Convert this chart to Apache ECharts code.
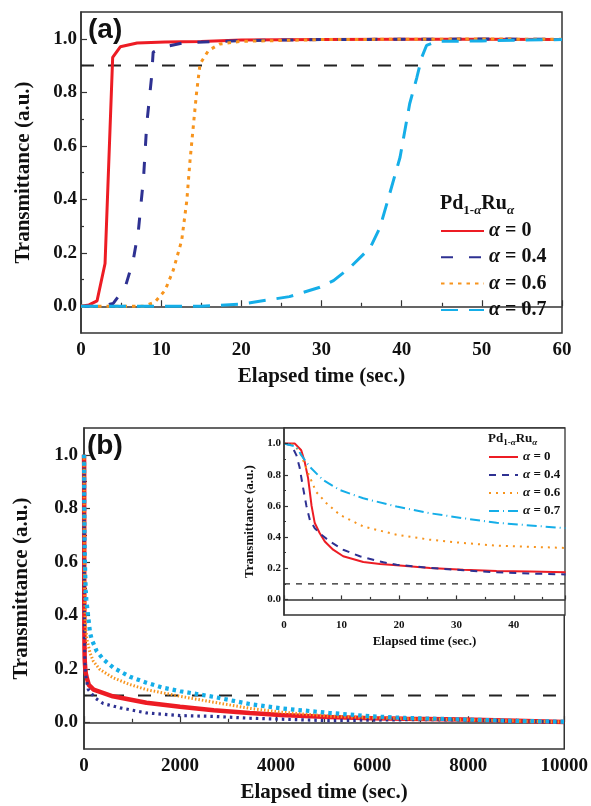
<!DOCTYPE html>
<html><head><meta charset="utf-8">
<script src="https://cdn.jsdelivr.net/npm/echarts@6/dist/echarts.min.js"></script>
<style>html,body{margin:0;padding:0;background:#fff}#c{width:591px;height:806px}</style>
</head><body><div id="c"></div>
<script>
// ---------- labels ----------
const alphaLabels = ['0', '0.4', '0.6', '0.7'];
const xTitle = 'Elapsed time (sec.)';
const yTitle = 'Transmittance (a.u.)';
const yTickValues = [0, 0.2, 0.4, 0.6, 0.8, 1.0];
const yMinorValues = [0.1, 0.3, 0.5, 0.7, 0.9];
const insetXTicks = [0, 10, 20, 30, 40];
const thresholdA = 0.9;
const thresholdB = 0.1;

// ---------- panel (a): [time (s), transmittance] ----------
const aAlpha0 = [[0,0],[1,0.005],[2,0.02],[3,0.16],[3.95,0.93],[4.9,0.97],[7,0.984],[10.5,0.988],[15,0.99],[20,0.995],[30,0.997],[40,0.998],[50,0.998],[60,0.997]];
const aAlpha04 = [[0,0],[2.4,0],[4,0.01],[5.5,0.07],[6.5,0.17],[7.15,0.28],[7.8,0.48],[8.2,0.68],[8.8,0.856],[9.0,0.95],[10.3,0.969],[12.8,0.985],[20,0.993],[30,0.997],[40,0.998],[50,0.999],[60,0.998]];
const aAlpha06 = [[0,0],[7.8,0],[9.2,0.015],[10.5,0.06],[11.5,0.134],[12.56,0.246],[13.2,0.395],[13.6,0.545],[14.0,0.67],[14.4,0.794],[14.85,0.906],[15.9,0.956],[17.3,0.98],[19.8,0.99],[30,0.997],[40,0.998],[50,0.999],[60,0.998]];
const aAlpha07 = [[0,0],[15,0],[20,0.008],[21.5,0.015],[26,0.036],[29.8,0.071],[31.5,0.096],[33.6,0.146],[36.1,0.22],[37.3,0.295],[38.5,0.42],[39.8,0.557],[41.0,0.757],[41.9,0.856],[42.5,0.93],[43.1,0.975],[44.4,0.99],[50,0.992],[55,0.995],[60,0.997]];

// ---------- panel (b) inset, first 49 s ----------
const bShort0 = [[0,1],[1.9,1.0],[3.0,0.957],[3.6,0.883],[4.2,0.777],[4.8,0.6],[5.35,0.49],[6.2,0.426],[7.1,0.372],[8.55,0.319],[10.3,0.277],[13.8,0.24],[16.7,0.228],[19.6,0.219],[25.4,0.202],[31.2,0.191],[37,0.183],[42.8,0.179],[49,0.174]];
const bShort04 = [[0,1],[1.3,0.99],[2.15,0.926],[2.7,0.85],[3.3,0.72],[3.9,0.6],[4.5,0.51],[5.35,0.457],[6.5,0.415],[8,0.372],[10.3,0.319],[13.2,0.277],[17.3,0.238],[19.6,0.223],[25.4,0.202],[31.2,0.187],[37,0.174],[42.8,0.166],[49,0.16]];
const bShort06 = [[0,1],[1.9,0.99],[3,0.926],[4.2,0.81],[5.6,0.69],[7.4,0.617],[9.7,0.543],[13.8,0.468],[19.6,0.415],[25.4,0.383],[31.2,0.362],[37,0.345],[42.8,0.338],[49,0.33]];
const bShort07 = [[0,1],[2.15,0.98],[3,0.926],[4.5,0.85],[6.8,0.766],[9.7,0.702],[13.8,0.649],[19.6,0.596],[25.4,0.553],[31.2,0.521],[37,0.492],[42.8,0.475],[49,0.457]];

// ---------- panel (b) long term, after 49 s ----------
const bLong0 = [[60,0.165],[100,0.14],[200,0.122],[600,0.097],[1300,0.073],[2000,0.058],[2700,0.045],[3450,0.035],[4100,0.027],[5100,0.02],[6000,0.015],[6700,0.013],[7900,0.01],[9000,0.006],[10000,0.001]];
const bLong04 = [[60,0.15],[90,0.122],[230,0.091],[400,0.07],[750,0.054],[1300,0.035],[2000,0.025],[2700,0.022],[3450,0.015],[5100,0.006],[6000,0.008],[7000,0.01],[8000,0.008],[9000,0.005],[10000,0.0]];
const bLong06 = [[60,0.31],[125,0.26],[194,0.228],[333,0.197],[610,0.166],[956,0.141],[1300,0.122],[2000,0.097],[2700,0.075],[3450,0.052],[4100,0.038],[5100,0.023],[6000,0.017],[6700,0.013],[8000,0.009],[9000,0.005],[10000,0.001]];
const bLong07 = [[60,0.44],[125,0.335],[160,0.31],[264,0.266],[402,0.235],[610,0.204],[956,0.17],[1300,0.148],[1650,0.129],[2000,0.116],[2700,0.095],[3450,0.068],[4100,0.052],[5100,0.035],[6000,0.022],[6700,0.016],[8000,0.01],[9000,0.005],[10000,0.002]];

// ---------- styling ----------
const SERIF = 'Liberation Serif';
const colors = ['#ed1c24', '#2e3192', '#f7941d', '#15aee8'];
const AX = '#333';

const chart = echarts.init(document.getElementById('c'), null, {renderer: 'canvas'});

function line(name, data, gi, color, width, type, z) {
  return {
    name: name, type: 'line', xAxisIndex: gi, yAxisIndex: gi * 2, data: data,
    showSymbol: false, symbol: 'none', silent: true, animation: false, z: z || 2,
    lineStyle: {color: color, width: width, type: type, cap: 'butt'},
    itemStyle: {color: color}
  };
}

function xAxis(gi, max, interval, fs, nfs, margin, gap) {
  return {
    type: 'value', gridIndex: gi, min: 0, max: max, interval: interval,
    axisLine: {lineStyle: {color: AX, width: 1.5}},
    axisTick: {inside: true, length: gi === 2 ? 4 : 6, lineStyle: {color: AX, width: 1.2}},
    minorTick: {show: true, splitNumber: 2, length: gi === 2 ? 2.5 : 3.5, lineStyle: {color: AX, width: 1.2}},
    splitLine: {show: false},
    axisLabel: {formatter: v => String(v), fontFamily: SERIF, fontWeight: 'bold', fontSize: fs, color: '#111', margin: margin},
    name: xTitle, nameLocation: 'middle', nameGap: gap,
    nameTextStyle: {fontFamily: SERIF, fontWeight: 'bold', fontSize: nfs, color: '#111'}
  };
}
function yAxes(gi, fs, nfs, margin, gap, tl) {
  return [{
    type: 'value', gridIndex: gi, min: -0.1, max: 1.1,
    axisLine: {lineStyle: {color: AX, width: 1.5}},
    axisTick: {inside: true, length: tl, customValues: yTickValues, lineStyle: {color: AX, width: 1.2}},
    splitLine: {show: false},
    axisLabel: {customValues: yTickValues, formatter: v => v.toFixed(1), fontFamily: SERIF, fontWeight: 'bold', fontSize: fs, color: '#111', margin: margin},
    name: yTitle, nameLocation: 'middle', nameGap: gap,
    nameTextStyle: {fontFamily: SERIF, fontWeight: 'bold', fontSize: nfs, color: '#111'}
  }, {
    type: 'value', gridIndex: gi, min: -0.1, max: 1.1, position: 'left',
    axisLine: {show: false},
    axisTick: {inside: true, length: tl / 2, customValues: yMinorValues, lineStyle: {color: AX, width: 1.2}},
    splitLine: {show: false},
    axisLabel: {show: false}
  }];
}

const namesA = alphaLabels.map(a => 'α = ' + a);
const namesI = alphaLabels.map(a => 'inset α = ' + a);
const labelOf = {};
alphaLabels.forEach((a, i) => { labelOf[namesA[i]] = a; labelOf[namesI[i]] = a; });

const series = [
  line(namesA[0], aAlpha0, 0, colors[0], 3, 'solid'),
  line(namesA[1], aAlpha04, 0, colors[1], 3, [12, 16]),
  line(namesA[2], aAlpha06, 0, colors[2], 3, [3.5, 5]),
  line(namesA[3], aAlpha07, 0, colors[3], 3, [17, 11]),
  line('thrA', [[0, thresholdA], [60, thresholdA]], 0, '#222', 2.2, [13, 14], 1),

  line('b0', bShort0.concat(bLong0), 1, colors[0], 4.5, 'solid'),
  line('b04', bShort04.concat(bLong04), 1, colors[1], 3.2, [2.5, 4]),
  line('b06', bShort06.concat(bLong06), 1, colors[2], 3, [1.5, 2]),
  line('b07', bShort07.concat(bLong07), 1, colors[3], 4.2, [3.5, 4]),
  line('thrB', [[0, thresholdB], [10000, thresholdB]], 1, '#222', 2.2, [13, 14], 1),

  line(namesI[0], bShort0, 2, colors[0], 2, 'solid', 5),
  line(namesI[1], bShort04, 2, colors[1], 2, [7, 6], 5),
  line(namesI[2], bShort06, 2, colors[2], 2, [2, 5], 5),
  line(namesI[3], bShort07, 2, colors[3], 2, [10, 4, 1, 4], 5),
  line('thrI', [[0, thresholdB], [48.9, thresholdB]], 2, '#222', 1.3, [6, 6], 5)
];

const richLegend = (fs) => ({
  i: {fontFamily: SERIF, fontStyle: 'italic', fontWeight: 'bold', fontSize: fs, color: '#111'},
  t: {fontFamily: SERIF, fontWeight: 'bold', fontSize: fs, color: '#111'}
});

function titleText(x, y, fs, sfs) {
  return {
    type: 'text', left: x, top: y, z: 100,
    style: {
      text: '{b|Pd}{s|1-}{si|α}{b|Ru}{si|α}',
      rich: {
        b: {fontFamily: SERIF, fontWeight: 'bold', fontSize: fs, fill: '#111', verticalAlign: 'bottom'},
        s: {fontFamily: SERIF, fontWeight: 'bold', fontSize: sfs, fill: '#111', verticalAlign: 'bottom', padding: [0, 0, -Math.round(sfs*0.25), 0]},
        si: {fontFamily: SERIF, fontWeight: 'bold', fontStyle: 'italic', fontSize: sfs, fill: '#111', verticalAlign: 'bottom', padding: [0, 0, -Math.round(sfs*0.25), 0]}
      }
    }
  };
}

const insetX = xAxis(2, 48.9, 10, 11, 13, 5, 20);
insetX.z = 6;
insetX.axisLabel.customValues = insetXTicks;

chart.setOption({
  backgroundColor: '#fff',
  animation: false,
  grid: [
    {left: 81, top: 12, width: 481, height: 321, show: true, borderColor: AX, borderWidth: 1.5, backgroundColor: 'transparent'},
    {left: 84, top: 428, width: 481, height: 321, show: true, borderColor: AX, borderWidth: 1.5, backgroundColor: 'transparent'},
    {left: 284, top: 428, width: 281, height: 187, show: true, borderColor: AX, borderWidth: 1.3, backgroundColor: '#fff', z: 3}
  ],
  xAxis: [
    xAxis(0, 60, 10, 19, 21, 8, 33),
    xAxis(1, 10000, 2000, 19, 21, 8, 33),
    insetX
  ],
  yAxis: [].concat(yAxes(0, 19, 21, 4, 47, 6), yAxes(1, 19, 21, 6, 52, 6),
    yAxes(2, 11, 13, 3, 28, 4).map(a => Object.assign(a, {z: 6}))),
  legend: [{
    data: namesA, orient: 'vertical', left: 440, top: 221, padding: 0,
    itemWidth: 43, itemHeight: 14, itemGap: 6.3,
    itemStyle: {opacity: 0},
    formatter: n => '{i|α}{t| = ' + labelOf[n] + '}',
    textStyle: {rich: richLegend(20), lineHeight: 20}
  }, {
    data: namesI, orient: 'vertical', left: 488, top: 450, padding: 0, z: 10,
    itemWidth: 29, itemHeight: 10, itemGap: 4,
    itemStyle: {opacity: 0},
    formatter: n => '{i|α}{t| = ' + labelOf[n] + '}',
    textStyle: {rich: richLegend(13), lineHeight: 14}
  }],
  graphic: [
    {type: 'text', left: 88, top: 16, z: 100, style: {text: '(a)', font: 'bold 28px "Liberation Sans"', fill: '#111'}},
    {type: 'text', left: 87, top: 432, z: 100, style: {text: '(b)', font: 'bold 28px "Liberation Sans"', fill: '#111'}},
    titleText(440, 194, 20, 13),
    titleText(488, 432, 13, 9)
  ],
  series: series
});
</script></body></html>
